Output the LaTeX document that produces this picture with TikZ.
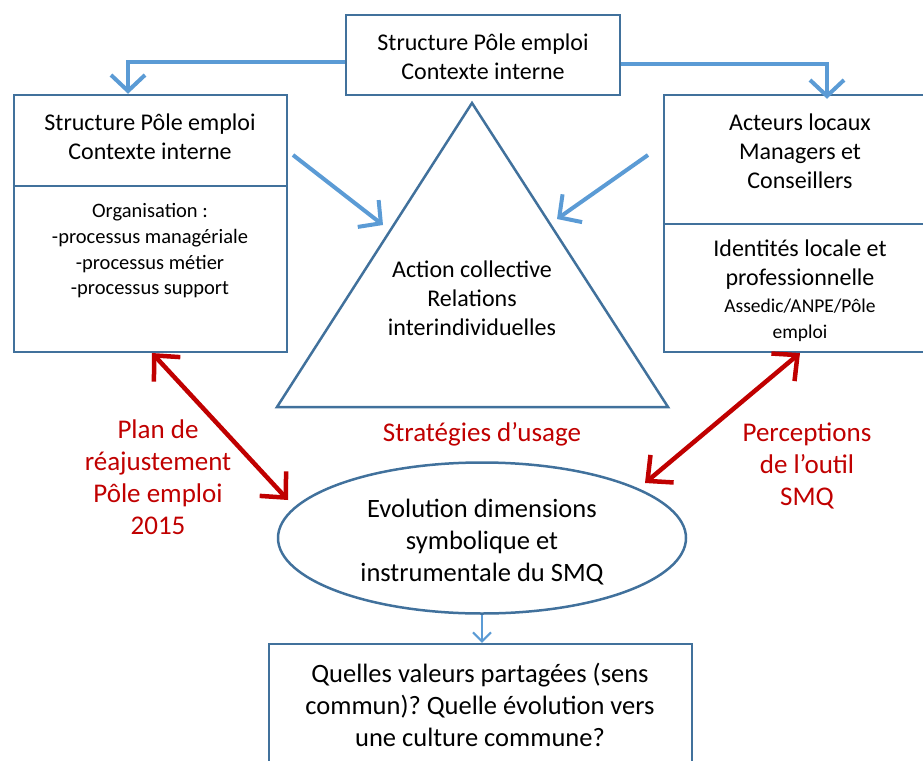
\documentclass[tikz,border=0pt]{standalone}
\usepackage{fontspec}
\setmainfont{Carlito}
\usetikzlibrary{arrows.meta,shapes.geometric}
\definecolor{bdr}{HTML}{41719C}
\definecolor{arr}{HTML}{5B9BD5}
\definecolor{rd}{HTML}{C00000}
\frenchspacing
\begin{document}
\begin{tikzpicture}[x=1pt,y=-1pt,
  box/.style={draw=bdr,line width=2.5pt,inner sep=0pt},
  txt/.style={align=center,inner sep=0pt,font=\fontsize{24}{29}\selectfont},
  stxt/.style={align=center,inner sep=0pt,font=\fontsize{20.5}{25.7}\selectfont},
  atxt/.style={align=center,inner sep=0pt,font=\fontsize{19.5}{26}\selectfont},
  btxt/.style={align=center,inner sep=0pt,font=\fontsize{26.5}{32}\selectfont},
  rtxt/.style={align=center,inner sep=0pt,text=rd,font=\fontsize{27}{32}\selectfont},
  barrow/.style={draw=arr,line width=4pt,-{Straight Barb[length=16pt,width=34pt]}},
  rarrow/.style={draw=rd,line width=4.5pt,{Straight Barb[length=19pt,width=36pt]}-{Straight Barb[length=19pt,width=36pt]}},
  tarrow/.style={draw=arr,line width=2pt,-{Straight Barb[length=9pt,width=18pt]}}]
\useasboundingbox (0,0) rectangle (923,760);
% top box
\node[box,minimum width=274pt,minimum height=80pt] (T) at (483,55) {};
\node[txt] (Tt) at (483,57) {Structure Pôle emploi\\Contexte interne};
% left box
\node[box,minimum width=273pt,minimum height=257pt] (L) at (150.5,223.5) {};
\draw[draw=bdr,line width=2.5pt] (L.west |- 0,186) -- (L.east |- 0,186);
\node[txt] (Lt) at (150,137) {Structure Pôle emploi\\Contexte interne};
\node[stxt] (Lo) at (150,251) {Organisation :\\-processus managériale\\-processus métier\\-processus support};
% right box (extends beyond the right edge)
\node[box,minimum width=266pt,minimum height=257pt] (R) at (797,223.5) {};
\draw[draw=bdr,line width=2.5pt] (R.west |- 0,224) -- (R.east |- 0,224);
\node[txt] (Rt) at (800,151) {Acteurs locaux\\Managers et\\Conseillers};
\node[txt] (Ri) at (800,264.5) {Identités locale et\\professionnelle};
\node[atxt] (Ra) at (800,320) {Assedic/ANPE/Pôle\\emploi};
% triangle
\coordinate (A1) at (472,103);
\coordinate (A2) at (277,407);
\coordinate (A3) at (668,407);
\draw[draw=bdr,line width=2.5pt,line join=miter] (A1) -- (A2) -- (A3) -- cycle;
\node[txt] (At) at (472,298) {Action collective\\Relations\\interindividuelles};
% ellipse
\node[ellipse,draw=bdr,line width=2.5pt,minimum width=408pt,minimum height=151pt,inner sep=0pt] (E) at (482,538) {};
\node[btxt] (Et) at (482,542) {Evolution dimensions\\symbolique et\\instrumentale du SMQ};
% bottom box
\node[box,minimum width=423pt,minimum height=140pt] (B) at (480.5,714) {};
\node[btxt] (Bt) at (480,705) {Quelles valeurs partagées (sens\\commun)? Quelle évolution vers\\une culture commune?};
% red labels
\node[rtxt] (P) at (158,477) {Plan de\\réajustement\\Pôle emploi\\2015};
\node[rtxt] (S) at (482,434) {Stratégies d’usage};
\node[rtxt] (Q) at (807,466) {Perceptions\\de l’outil\\SMQ};
% blue arrows
\draw[barrow] ([yshift=-7pt]T.west) -| ([xshift=-22.5pt]L.north);
\draw[barrow] ([yshift=-9pt]T.east) -| ([xshift=30pt,yshift=-5pt]R.north);
\coordinate (d1) at (293,155);
\coordinate (d2) at (383,225);
\coordinate (d3) at (648,155);
\coordinate (d4) at (557,219);
\draw[barrow] (d1) -- (d2);
\draw[barrow] (d3) -- (d4);
\draw[tarrow] (E.south) -- (B.north -| E.south);
% red arrows
\coordinate (r1) at (152,353);
\coordinate (r2) at (288,500);
\coordinate (r3) at (800,353);
\coordinate (r4) at (645,483);
\draw[rarrow] (r1) -- (r2);
\draw[rarrow] (r3) -- (r4);
\end{tikzpicture}
\end{document}
